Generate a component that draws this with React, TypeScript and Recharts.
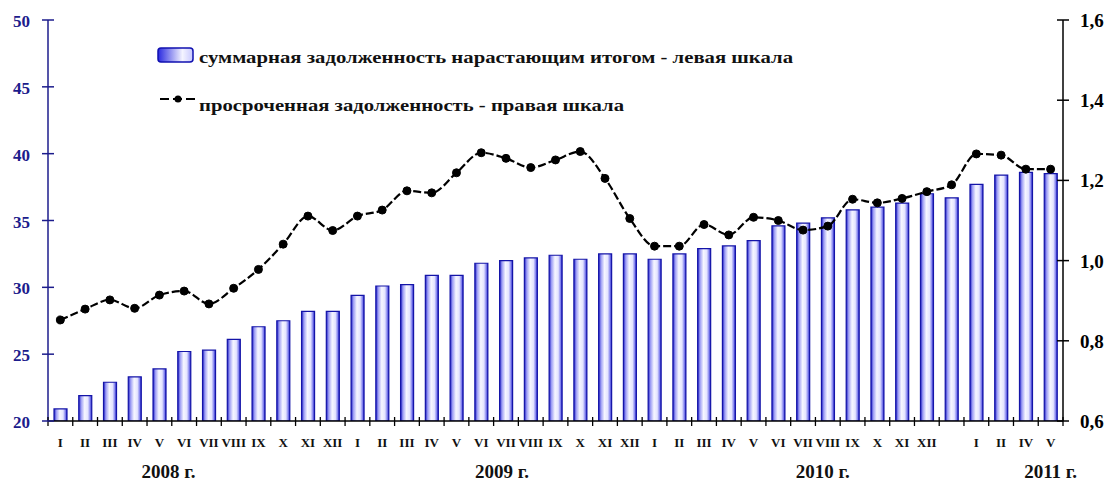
import React from 'react';
import { ComposedChart, Bar, Line, XAxis, YAxis } from 'recharts';

// month labels (2008 I .. 2011 V), as printed under the axis
const months = [
  'I', 'II', 'III', 'IV', 'V', 'VI', 'VII', 'VIII', 'IX', 'X', 'XI', 'XII',
  'I', 'II', 'III', 'IV', 'V', 'VI', 'VII', 'VIII', 'IX', 'X', 'XI', 'XII',
  'I', 'II', 'III', 'IV', 'V', 'VI', 'VII', 'VIII', 'IX', 'X', 'XI', 'XII',
  '', 'I', 'II', 'IV', 'V',
];

// суммарная задолженность нарастающим итогом (left scale)
const totalDebt = [
  20.9, 21.9, 22.9, 23.3, 23.9, 25.2, 25.3, 26.1, 27.05, 27.5, 28.2, 28.2,
  29.4, 30.1, 30.2, 30.9, 30.9, 31.8, 32.0, 32.2, 32.4, 32.1, 32.5, 32.5,
  32.1, 32.5, 32.9, 33.1, 33.5, 34.6, 34.8, 35.2, 35.8, 36.0, 36.3, 37.0,
  36.7, 37.7, 38.4, 38.6, 38.5,
];

// просроченная задолженность (right scale)
const overdueDebt = [
  0.852, 0.879, 0.902, 0.881, 0.914, 0.924, 0.892, 0.931, 0.978, 1.041, 1.111, 1.075,
  1.111, 1.126, 1.174, 1.169, 1.219, 1.269, 1.255, 1.232, 1.251, 1.272, 1.205, 1.105,
  1.036, 1.036, 1.09, 1.064, 1.108, 1.1, 1.076, 1.086, 1.153, 1.144, 1.155, 1.172,
  1.189, 1.266, 1.263, 1.228, 1.228,
];

const leftTicks = [20, 25, 30, 35, 40, 45, 50];
const rightTicks = [0.6, 0.8, 1.0, 1.2, 1.4, 1.6];
const yearLabels = ['2008 г.', '2009 г.', '2010 г.', '2011 г.'];

const legendBars = 'суммарная задолженность нарастающим итогом - левая шкала';
const legendLine = 'просроченная задолженность - правая шкала';

const data = months.map((m, i) => ({
  month: m,
  total: totalDebt[i],
  overdue: overdueDebt[i],
}));

const FONT = '"Liberation Serif", "DejaVu Serif", serif';
const NAVY = '#1c1c8c';

// which tick carries which year caption, and a nudge in px
const yearAt: Record<number, [number, number]> = {
  4: [0, 9],
  18: [1, -4],
  31: [2, -5],
  40: [3, 0],
};

function MonthTick(props: any) {
  const { x, y, payload, index } = props;
  const half = payload?.offset ?? 12.4;
  const axisY = y - 10;
  const year = yearAt[index];
  return (
    <g>
      <line x1={x - half} x2={x - half} y1={axisY - 4} y2={axisY + 5} stroke="#000" strokeWidth={1.3} />
      {index === months.length - 1 && (
        <line x1={x + half} x2={x + half} y1={axisY - 4} y2={axisY + 5} stroke="#000" strokeWidth={1.3} />
      )}
      <text x={x} y={y + 16} textAnchor="middle" fontFamily={FONT} fontWeight="bold" fontSize={13} fill="#111">
        {months[index]}
      </text>
      {year && (
        <text x={x + year[1]} y={y + 47} textAnchor="middle" fontFamily={FONT} fontWeight="bold" fontSize={19} fill="#111">
          {yearLabels[year[0]]}
        </text>
      )}
    </g>
  );
}

function LeftTick(props: any) {
  const { x, y, payload } = props;
  const ax = x + 18;
  return (
    <g>
      <line x1={ax - 6} x2={ax + 6} y1={y} y2={y} stroke={NAVY} strokeWidth={1.5} />
      <text x={x} y={y + 7} textAnchor="end" fontFamily={FONT} fontWeight="bold" fontSize={17} fill={NAVY}>
        {payload.value}
      </text>
    </g>
  );
}

function RightTick(props: any) {
  const { x, y, payload } = props;
  const ax = x - 17;
  return (
    <g>
      <line x1={ax - 6} x2={ax + 6} y1={y} y2={y} stroke="#000" strokeWidth={1.5} />
      <text x={x} y={y + 7} textAnchor="start" fontFamily={FONT} fontWeight="bold" fontSize={19} fill="#000">
        {Number(payload.value).toFixed(1).replace('.', ',')}
      </text>
    </g>
  );
}

export default function App() {
  return (
    <div style={{ position: 'absolute', left: 0, top: 0, width: 1110, height: 481, background: '#fff' }}>
      <svg width={0} height={0} style={{ position: 'absolute' }}>
        <defs>
          <linearGradient id="barGrad" x1="0" y1="0" x2="1" y2="0">
            <stop offset="0%" stopColor="#1c1cc4" />
            <stop offset="18%" stopColor="#9c9cf4" />
            <stop offset="45%" stopColor="#f6f6ff" />
            <stop offset="70%" stopColor="#e4e4ff" />
            <stop offset="88%" stopColor="#8080ee" />
            <stop offset="100%" stopColor="#1818c0" />
          </linearGradient>
          <linearGradient id="legendGrad" x1="0" y1="0" x2="1" y2="0">
            <stop offset="0%" stopColor="#2a2ae0" />
            <stop offset="70%" stopColor="#f4f4ff" />
            <stop offset="100%" stopColor="#c8c8ff" />
          </linearGradient>
        </defs>
      </svg>
      <ComposedChart width={1110} height={481} data={data} margin={{ top: 20, right: 0, bottom: 0, left: 0 }}>
        <XAxis
          dataKey="month"
          height={60}
          interval={0}
          tickLine={false}
          tickSize={6}
          tickMargin={4}
          axisLine={{ stroke: '#000', strokeWidth: 1.5 }}
          tick={<MonthTick />}
        />
        <YAxis
          yAxisId="left"
          orientation="left"
          width={48}
          domain={[20, 50]}
          ticks={leftTicks}
          allowDataOverflow
          tickLine={false}
          tickSize={6}
          tickMargin={12}
          axisLine={{ stroke: NAVY, strokeWidth: 1.5 }}
          tick={<LeftTick />}
        />
        <YAxis
          yAxisId="right"
          orientation="right"
          width={47}
          domain={[0.6, 1.6]}
          ticks={rightTicks}
          allowDataOverflow
          tickLine={false}
          tickSize={6}
          tickMargin={11}
          axisLine={{ stroke: '#000', strokeWidth: 1.5 }}
          tick={<RightTick />}
        />
        <Bar
          yAxisId="left"
          dataKey="total"
          barSize={13}
          fill="url(#barGrad)"
          stroke="#1414a8"
          strokeWidth={1.2}
          isAnimationActive={false}
        />
        <Line
          yAxisId="right"
          type="monotone"
          dataKey="overdue"
          stroke="#000"
          strokeWidth={2.2}
          strokeDasharray="8 3"
          dot={{ r: 4, fill: '#000', stroke: '#000', strokeWidth: 1, strokeDasharray: 'none' }}
          isAnimationActive={false}
        />
      </ComposedChart>
      <svg width={1110} height={481} style={{ position: 'absolute', left: 0, top: 0, pointerEvents: 'none' }}>
        <rect x={158} y={48} width={35} height={14} rx={3} fill="url(#legendGrad)" stroke="#1010b0" strokeWidth={1.5} />
        <text x={199} y={63} fontFamily={FONT} fontWeight="bold" fontSize={17} fill="#111" textLength={594} lengthAdjust="spacingAndGlyphs">
          {legendBars}
        </text>
        <line x1={160} x2={197} y1={99} y2={99} stroke="#000" strokeWidth={2.2} strokeDasharray="9 4" />
        <circle cx={178} cy={99} r={3.5} fill="#000" />
        <text x={199} y={111} fontFamily={FONT} fontWeight="bold" fontSize={17} fill="#111" textLength={425} lengthAdjust="spacingAndGlyphs">
          {legendLine}
        </text>
      </svg>
    </div>
  );
}
